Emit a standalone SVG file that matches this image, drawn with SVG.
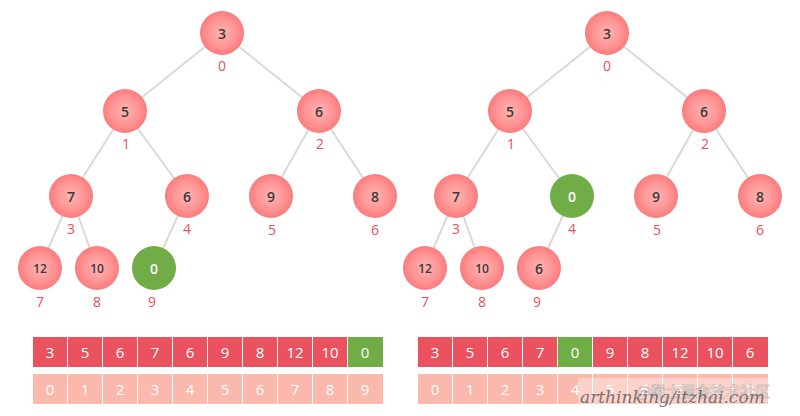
<svg xmlns="http://www.w3.org/2000/svg" width="800" height="416" viewBox="0 0 800 416">
<defs>
<radialGradient id="pk" cx="50%" cy="50%" r="50%">
<stop offset="0%" stop-color="#ffb4b4"/>
<stop offset="65%" stop-color="#ff9393"/>
<stop offset="100%" stop-color="#fb7b7d"/>
</radialGradient>
</defs>
<style>
.n{fill:url(#pk)}
.g{fill:#70ad47}
.v{font-family:"Open Sans","Liberation Sans",sans-serif;font-size:14px;font-weight:600;fill:#3a3a3a;text-anchor:middle;dominant-baseline:central}
.v2{font-size:12px}
.vw{fill:#ffffff}
.i{font-family:"Open Sans","Liberation Sans",sans-serif;font-size:14px;fill:#e8505b;text-anchor:middle;dominant-baseline:central}
.e line{stroke:#d9d9d9;stroke-width:2}
.c{fill:#e9525e}
.cg{fill:#70ad47}
.cl{fill:#fbb8ad}
.t{font-family:"Open Sans","Liberation Sans",sans-serif;font-size:15px;fill:#ffffff;text-anchor:middle;dominant-baseline:central}
</style>
<rect width="800" height="416" fill="#ffffff"/>
<g id="connectors" class="e">
<line x1="222" y1="33" x2="125" y2="111"/>
<line x1="222" y1="33" x2="319" y2="111"/>
<line x1="125" y1="111" x2="71" y2="196"/>
<line x1="125" y1="111" x2="187" y2="196"/>
<line x1="319" y1="111" x2="271" y2="196"/>
<line x1="319" y1="111" x2="375" y2="196"/>
<line x1="71" y1="196" x2="40" y2="268"/>
<line x1="71" y1="196" x2="97" y2="268"/>
<line x1="187" y1="196" x2="154" y2="268"/>
<line x1="607" y1="33" x2="510" y2="111"/>
<line x1="607" y1="33" x2="704" y2="111"/>
<line x1="510" y1="111" x2="456" y2="196"/>
<line x1="510" y1="111" x2="572" y2="196"/>
<line x1="704" y1="111" x2="656" y2="196"/>
<line x1="704" y1="111" x2="760" y2="196"/>
<line x1="456" y1="196" x2="425" y2="268"/>
<line x1="456" y1="196" x2="482" y2="268"/>
<line x1="572" y1="196" x2="539" y2="268"/>
</g>
<g id="L0"><circle class="n" cx="222" cy="33" r="22"/><text class="v" x="222" y="33">3</text><text class="i" x="222" y="65">0</text></g>
<g id="L1"><circle class="n" cx="125" cy="111" r="22"/><text class="v" x="125" y="111">5</text><text class="i" x="126" y="143">1</text></g>
<g id="L2"><circle class="n" cx="319" cy="111" r="22"/><text class="v" x="319" y="111">6</text><text class="i" x="320" y="143">2</text></g>
<g id="L3"><circle class="n" cx="71" cy="196" r="22"/><text class="v" x="71" y="196">7</text><text class="i" x="71" y="228">3</text></g>
<g id="L4"><circle class="n" cx="187" cy="196" r="22"/><text class="v" x="187" y="196">6</text><text class="i" x="187" y="228">4</text></g>
<g id="L5"><circle class="n" cx="271" cy="196" r="22"/><text class="v" x="271" y="196">9</text><text class="i" x="272" y="229">5</text></g>
<g id="L6"><circle class="n" cx="375" cy="196" r="22"/><text class="v" x="375" y="196">8</text><text class="i" x="375" y="229">6</text></g>
<g id="L7"><circle class="n" cx="40" cy="268" r="22"/><text class="v v2" x="40" y="268">12</text><text class="i" x="40" y="301">7</text></g>
<g id="L8"><circle class="n" cx="97" cy="268" r="22"/><text class="v v2" x="97" y="268">10</text><text class="i" x="97" y="301">8</text></g>
<g id="L9"><circle class="g" cx="154" cy="268" r="22"/><text class="v vw" x="154" y="268">0</text><text class="i" x="152" y="301">9</text></g>
<g id="R0"><circle class="n" cx="607" cy="33" r="22"/><text class="v" x="607" y="33">3</text><text class="i" x="607" y="65">0</text></g>
<g id="R1"><circle class="n" cx="510" cy="111" r="22"/><text class="v" x="510" y="111">5</text><text class="i" x="511" y="143">1</text></g>
<g id="R2"><circle class="n" cx="704" cy="111" r="22"/><text class="v" x="704" y="111">6</text><text class="i" x="705" y="143">2</text></g>
<g id="R3"><circle class="n" cx="456" cy="196" r="22"/><text class="v" x="456" y="196">7</text><text class="i" x="456" y="228">3</text></g>
<g id="R4"><circle class="g" cx="572" cy="196" r="22"/><text class="v vw" x="572" y="196">0</text><text class="i" x="572" y="228">4</text></g>
<g id="R5"><circle class="n" cx="656" cy="196" r="22"/><text class="v" x="656" y="196">9</text><text class="i" x="657" y="229">5</text></g>
<g id="R6"><circle class="n" cx="760" cy="196" r="22"/><text class="v" x="760" y="196">8</text><text class="i" x="760" y="229">6</text></g>
<g id="R7"><circle class="n" cx="425" cy="268" r="22"/><text class="v v2" x="425" y="268">12</text><text class="i" x="425" y="301">7</text></g>
<g id="R8"><circle class="n" cx="482" cy="268" r="22"/><text class="v v2" x="482" y="268">10</text><text class="i" x="482" y="301">8</text></g>
<g id="R9"><circle class="n" cx="539" cy="268" r="22"/><text class="v" x="539" y="268">6</text><text class="i" x="537" y="301">9</text></g>
<g id="arrayL">
<rect class="c" x="33" y="337" width="34" height="30"/><text class="t" x="50" y="352">3</text>
<rect class="c" x="68" y="337" width="34" height="30"/><text class="t" x="85" y="352">5</text>
<rect class="c" x="103" y="337" width="34" height="30"/><text class="t" x="120" y="352">6</text>
<rect class="c" x="138" y="337" width="34" height="30"/><text class="t" x="155" y="352">7</text>
<rect class="c" x="173" y="337" width="34" height="30"/><text class="t" x="190" y="352">6</text>
<rect class="c" x="208" y="337" width="34" height="30"/><text class="t" x="225" y="352">9</text>
<rect class="c" x="243" y="337" width="34" height="30"/><text class="t" x="260" y="352">8</text>
<rect class="c" x="278" y="337" width="34" height="30"/><text class="t" x="295" y="352">12</text>
<rect class="c" x="313" y="337" width="34" height="30"/><text class="t" x="330" y="352">10</text>
<rect class="cg" x="348" y="337" width="35" height="30"/><text class="t" x="365" y="352">0</text>
<rect class="cl" x="33" y="374" width="34" height="30"/><text class="t" x="50" y="389">0</text>
<rect class="cl" x="68" y="374" width="34" height="30"/><text class="t" x="85" y="389">1</text>
<rect class="cl" x="103" y="374" width="34" height="30"/><text class="t" x="120" y="389">2</text>
<rect class="cl" x="138" y="374" width="34" height="30"/><text class="t" x="155" y="389">3</text>
<rect class="cl" x="173" y="374" width="34" height="30"/><text class="t" x="190" y="389">4</text>
<rect class="cl" x="208" y="374" width="34" height="30"/><text class="t" x="225" y="389">5</text>
<rect class="cl" x="243" y="374" width="34" height="30"/><text class="t" x="260" y="389">6</text>
<rect class="cl" x="278" y="374" width="34" height="30"/><text class="t" x="295" y="389">7</text>
<rect class="cl" x="313" y="374" width="34" height="30"/><text class="t" x="330" y="389">8</text>
<rect class="cl" x="348" y="374" width="35" height="30"/><text class="t" x="365" y="389">9</text>
</g>
<g id="arrayR">
<rect class="c" x="418" y="337" width="34" height="30"/><text class="t" x="435" y="352">3</text>
<rect class="c" x="453" y="337" width="34" height="30"/><text class="t" x="470" y="352">5</text>
<rect class="c" x="488" y="337" width="34" height="30"/><text class="t" x="505" y="352">6</text>
<rect class="c" x="523" y="337" width="34" height="30"/><text class="t" x="540" y="352">7</text>
<rect class="cg" x="558" y="337" width="34" height="30"/><text class="t" x="575" y="352">0</text>
<rect class="c" x="593" y="337" width="34" height="30"/><text class="t" x="610" y="352">9</text>
<rect class="c" x="628" y="337" width="34" height="30"/><text class="t" x="645" y="352">8</text>
<rect class="c" x="663" y="337" width="34" height="30"/><text class="t" x="680" y="352">12</text>
<rect class="c" x="698" y="337" width="34" height="30"/><text class="t" x="715" y="352">10</text>
<rect class="c" x="733" y="337" width="35" height="30"/><text class="t" x="750" y="352">6</text>
<rect class="cl" x="418" y="374" width="34" height="30"/><text class="t" x="435" y="389">0</text>
<rect class="cl" x="453" y="374" width="34" height="30"/><text class="t" x="470" y="389">1</text>
<rect class="cl" x="488" y="374" width="34" height="30"/><text class="t" x="505" y="389">2</text>
<rect class="cl" x="523" y="374" width="34" height="30"/><text class="t" x="540" y="389">3</text>
<rect class="cl" x="558" y="374" width="34" height="30"/><text class="t" x="575" y="389">4</text>
<rect class="cl" x="593" y="374" width="34" height="30"/><text class="t" x="610" y="389">5</text>
<rect class="cl" x="628" y="374" width="34" height="30"/><text class="t" x="645" y="389">6</text>
<rect class="cl" x="663" y="374" width="34" height="30"/><text class="t" x="680" y="389">7</text>
<rect class="cl" x="698" y="374" width="34" height="30"/><text class="t" x="715" y="389">8</text>
<rect class="cl" x="733" y="374" width="35" height="30"/><text class="t" x="750" y="389">9</text>
</g>
<g id="watermark">
<rect x="578" y="378" width="212" height="30" fill="#ffffff" fill-opacity="0.35"/>
<text x="636" y="390" font-family="'Noto Sans CJK SC',sans-serif" font-size="15" fill="#ffffff" fill-opacity="0.8" stroke="#8a8a8a" stroke-width="0.5" stroke-opacity="0.7" dominant-baseline="central">@稀土掘金技术社区</text>
<text x="580" y="403" font-family="'DejaVu Serif',serif" font-style="italic" font-size="17" fill="#555555" fill-opacity="0.8">arthinking/itzhai.com</text>
</g>
</svg>
